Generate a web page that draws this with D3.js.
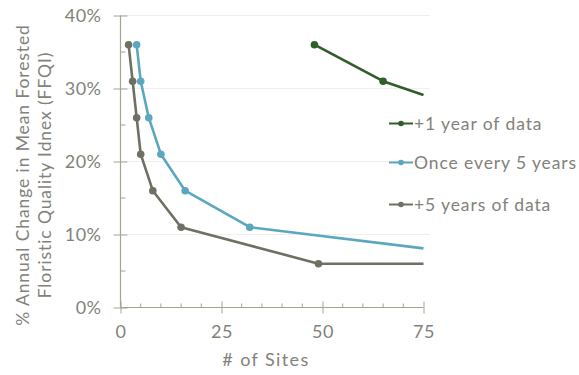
<!DOCTYPE html>
<html><head><meta charset="utf-8">
<script src="https://cdn.jsdelivr.net/npm/d3@7"></script>
<style>
html,body{margin:0;padding:0;background:#fff;}
text{font-family:Lato,"Open Sans",sans-serif;fill:#82827a;}
</style></head>
<body><svg id="c" width="579" height="375"></svg>
<script>
// Data
const seriesNames = ["+1 year of data", "Once every 5 years", "+5 years of data"];
const seriesColors = ["#2f5e2b", "#5ba7bf", "#6f6f63"];
// sites (x) and % annual change (y); last entry of each is where the line leaves the plot at x=75 (no marker)
const oneYearSites = [48, 65, 75];
const oneYearValues = [36, 31, 29.1];
const fiveYearSites = [4, 5, 7, 10, 16, 32, 75];
const fiveYearValues = [36, 31, 26, 21, 16, 11, 8.1];
const plusFiveSites = [2, 3, 4, 5, 8, 15, 49, 75];
const plusFiveValues = [36, 31, 26, 21, 16, 11, 6, 6];
const xTicks = [0, 25, 50, 75];
const yTicks = [0, 10, 20, 30, 40];

const svg = d3.select("#c");
const x = d3.scaleLinear().domain([0, 75]).range([120.5, 423.5]);
const y = d3.scaleLinear().domain([0, 40]).range([307.5, 15.5]);
const axisColor = "#a6a294";

// gridlines
svg.append("g").selectAll("line").data(yTicks.filter(d => d > 0)).join("line")
  .attr("x1", x(0)).attr("x2", 430).attr("y1", d => y(d)).attr("y2", d => y(d))
  .attr("stroke", "#efefeb").attr("stroke-width", 1);

// y axis
const yAxis = svg.append("g").attr("transform", `translate(${x(0)},0)`)
  .call(d3.axisLeft(y).tickValues(yTicks).tickFormat(d => d + "%").tickSize(7).tickPadding(12));
yAxis.select(".domain").remove();
yAxis.selectAll(".tick line").attr("x2", 7).attr("x1", -7).attr("stroke", axisColor);
yAxis.selectAll(".tick text").style("font-size", "18px").style("font-family", "Lato,sans-serif").attr("fill", "#82827a").style("letter-spacing", "0.5px");
// minor y ticks
svg.append("g").selectAll("line").data([5, 15, 25, 35]).join("line")
  .attr("x1", x(0)).attr("x2", x(0) + 5).attr("y1", d => y(d)).attr("y2", d => y(d)).attr("stroke", axisColor);
svg.append("line").attr("x1", x(0)).attr("x2", x(0)).attr("y1", y(40)).attr("y2", y(0)).attr("stroke", axisColor).attr("stroke-width", 1.2);

// x axis
const xAxis = svg.append("g").attr("transform", `translate(0,${y(0)})`)
  .call(d3.axisBottom(x).tickValues(xTicks).tickSize(6).tickPadding(12));
xAxis.select(".domain").remove();
xAxis.selectAll(".tick line").attr("y1", -6).attr("y2", 6).attr("stroke", axisColor);
xAxis.selectAll(".tick text").style("font-size", "18px").style("font-family", "Lato,sans-serif").attr("fill", "#82827a").style("letter-spacing", "0.5px");
svg.append("g").selectAll("line").data(d3.range(5, 75, 5).filter(d => d % 25 !== 0)).join("line")
  .attr("x1", d => x(d)).attr("x2", d => x(d)).attr("y1", y(0) - 4).attr("y2", y(0)).attr("stroke", axisColor);
svg.append("line").attr("x1", x(0)).attr("x2", x(75)).attr("y1", y(0)).attr("y2", y(0)).attr("stroke", axisColor).attr("stroke-width", 1.2);

// axis titles
svg.append("text").attr("x", 266).attr("y", 366).attr("text-anchor", "middle").style("font-size", "18px").style("letter-spacing", "1.4px").text("# of Sites");
const yt = svg.append("text").attr("transform", "translate(0,175) rotate(-90)").attr("text-anchor", "middle").style("font-size", "17.5px").style("letter-spacing", "0.9px");
yt.append("tspan").attr("x", 0).attr("y", 29).text("% Annual Change in Mean Forested");
yt.append("tspan").attr("x", 0).attr("y", 51).text("Floristic Quality Idnex (FFQI)");

// series
const series = [
  {sites: oneYearSites, vals: oneYearValues},
  {sites: fiveYearSites, vals: fiveYearValues},
  {sites: plusFiveSites, vals: plusFiveValues}
];
const line = d3.line().x(d => x(d[0])).y(d => y(d[1]));
series.forEach((s, i) => {
  const pts = s.sites.map((v, j) => [v, s.vals[j]]);
  svg.append("path").datum(pts).attr("d", line).attr("fill", "none")
    .attr("stroke", seriesColors[i]).attr("stroke-width", 2.6).attr("stroke-linejoin", "round");
  svg.append("g").selectAll("circle").data(pts.filter(d => d[0] < 75)).join("circle")
    .attr("cx", d => x(d[0])).attr("cy", d => y(d[1])).attr("r", 3.8).attr("fill", seriesColors[i]);
});

// legend
const legY = [123.5, 162.5, 204.5];
seriesNames.forEach((n, i) => {
  const g = svg.append("g").attr("transform", `translate(0,${legY[i]})`);
  g.append("line").attr("x1", 389).attr("x2", 413).attr("stroke", seriesColors[i]).attr("stroke-width", 2);
  g.append("circle").attr("cx", 401).attr("r", 2.8).attr("fill", seriesColors[i]);
  g.append("text").attr("x", 414).attr("y", 6).style("font-size", "17.5px").style("letter-spacing", "0.9px").text(n);
});
</script></body></html>
